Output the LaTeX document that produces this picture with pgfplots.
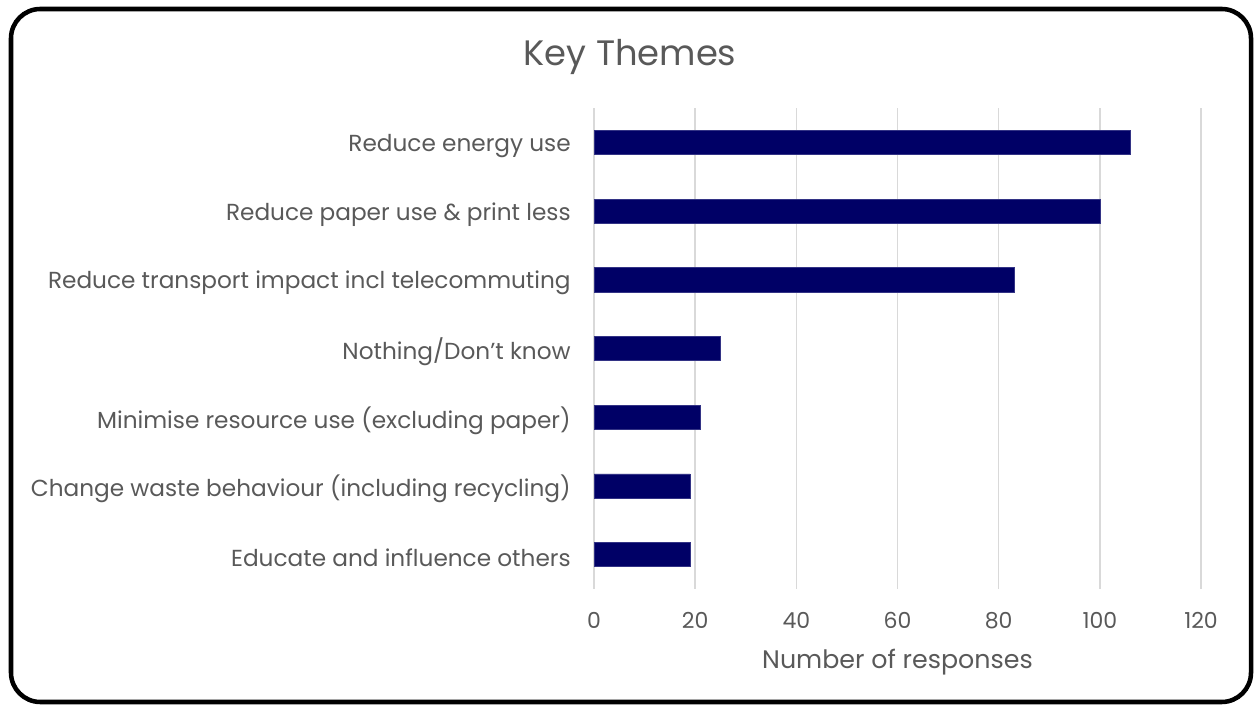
\documentclass[border=0pt]{standalone}
\usepackage{pgfplots}
\pgfplotsset{compat=1.18}
\usepackage{fontspec}
\setmainfont{Poppins}
\definecolor{barc}{RGB}{0,0,102}
\definecolor{txt}{RGB}{89,89,89}
\definecolor{gridc}{RGB}{217,217,217}
\begin{document}
\begin{tikzpicture}[x=0.75pt,y=0.75pt]
\useasboundingbox (0,0) rectangle (1259,706);
\draw[line width=3.4pt, rounded corners=22pt] (11,4) rectangle (1251,697);
\node[text=txt, font=\fontsize{26.5}{30}\selectfont] at (630,649) {Key Themes};
\begin{axis}[
  at={(445.5pt,87.75pt)}, anchor=south west,
  scale only axis, width=455.25pt, height=360.75pt,
  xbar, bar width=0.35,
  xmin=0, xmax=120, ymin=-0.5, ymax=6.5,
  xtick={0,20,...,120},
  ytick={0,...,6},
  yticklabels={Educate and influence others,Change waste behaviour (including recycling),Minimise resource use (excluding paper),Nothing/Don't know,Reduce transport impact incl telecommuting,Reduce paper use \& print less,Reduce energy use},
  xmajorgrids, grid style={gridc, line width=1.1pt},
  axis line style={draw=none},
  tick style={draw=none},
  /pgf/number format/assume math mode=true,
  tick label style={text=txt},
  yticklabel style={inner sep=0pt, anchor=east, xshift=-13pt, yshift=-2.5pt, font=\fontsize{17.4}{20}\selectfont},
  xticklabel style={inner sep=0pt, anchor=north, yshift=-17pt, font=\fontsize{16.5}{20}\selectfont},
  xlabel={Number of responses},
  xlabel style={at={(axis description cs:0.5,0)}, anchor=center, yshift=-55pt, text=txt, font=\fontsize{19}{22}\selectfont},
]
\addplot[fill=barc, draw=barc!80!white, line width=0.4pt] coordinates {(19,0) (19,1) (21,2) (25,3) (83,4) (100,5) (106,6)};
\end{axis}
\end{tikzpicture}
\end{document}
